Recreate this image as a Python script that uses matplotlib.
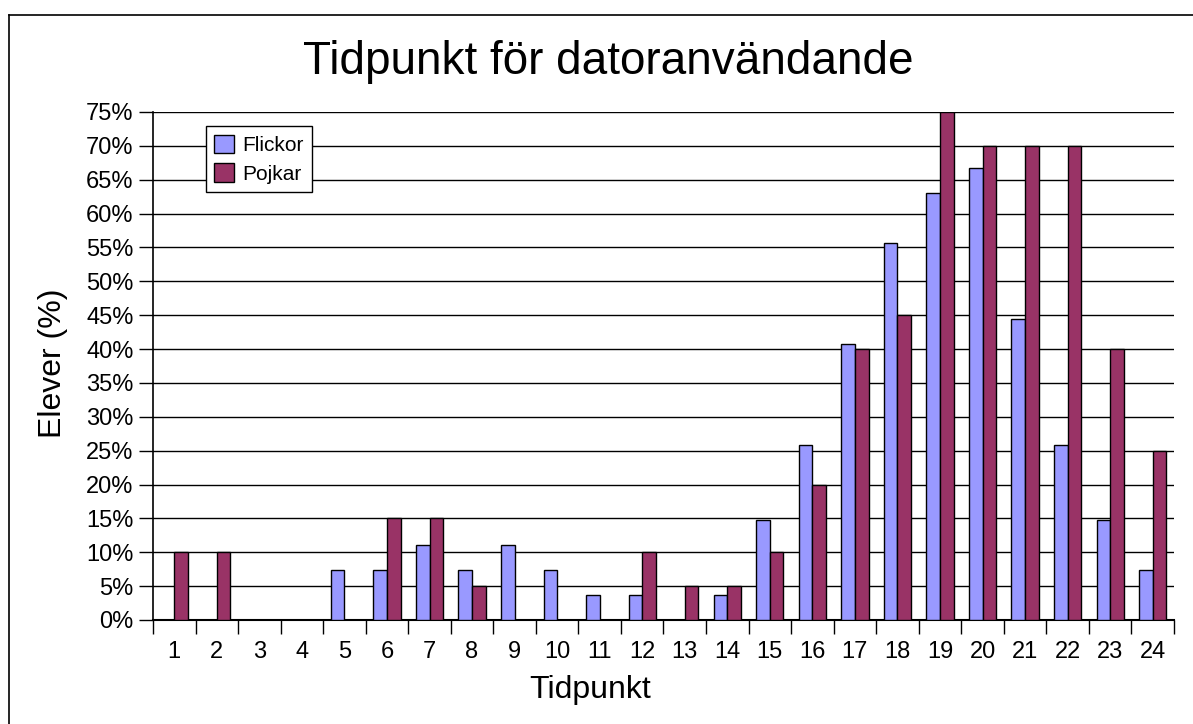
import matplotlib.pyplot as plt
import numpy as np
from matplotlib.lines import Line2D
from matplotlib.ticker import FixedLocator, PercentFormatter

# data (percent of pupils per hour)
hours = list(range(1, 25))
flickor = [0, 0, 0, 0, 7.4, 7.4, 11.1, 7.4, 11.1, 7.4, 3.7, 3.7,
           0, 3.7, 14.8, 25.9, 40.7, 55.6, 63.0, 66.7, 44.4, 25.9, 14.8, 7.4]
pojkar = [10, 10, 0, 0, 0, 15, 15, 5, 0, 0, 0, 10,
          5, 5, 10, 20, 40, 45, 75, 70, 70, 70, 40, 25]
yticks = list(range(0, 80, 5))

plt.rcParams['font.family'] = ['Liberation Sans', 'DejaVu Sans']

fig = plt.figure(figsize=(11.93, 7.24), dpi=100)
ax = fig.add_axes([153 / 1193, 1 - 620 / 724, (1174 - 153) / 1193, (620 - 112) / 724])

x = np.arange(1, 25)
w = 0.32
ax.bar(x - w / 2, flickor, width=w, color='#9999FF', edgecolor='black',
       linewidth=1, label='Flickor', zorder=3)
ax.bar(x + w / 2, pojkar, width=w, color='#993366', edgecolor='black',
       linewidth=1, label='Pojkar', zorder=3)

ax.set_xlim(0.5, 24.5)
ax.set_ylim(0, 75)
ax.set_yticks(yticks)
ax.yaxis.set_major_formatter(PercentFormatter(decimals=0))
ax.set_xticks(x)
ax.set_xticklabels([str(h) for h in hours])
ax.xaxis.set_minor_locator(FixedLocator(np.arange(0.5, 25, 1)))
ax.tick_params(axis='x', which='major', length=0, labelsize=17, pad=15)
ax.tick_params(axis='x', which='minor', length=10, width=1, direction='out')
ax.tick_params(axis='y', length=10, width=1, direction='out', labelsize=17, pad=4)

ax.grid(axis='y', color='black', linewidth=1, zorder=0)
ax.set_axisbelow(True)
for s in ['top', 'right']:
    ax.spines[s].set_visible(False)
ax.spines['left'].set_linewidth(1.2)
ax.spines['bottom'].set_linewidth(1.5)

ax.set_xlabel('Tidpunkt', fontsize=23)
ax.xaxis.set_label_coords((590 - 153) / 1021, -(690 - 620) / 508)
ax.xaxis.label.set_va('center')
ax.set_ylabel('Elever (%)', fontsize=23)
ax.yaxis.set_label_coords(-(153 - 53) / 1021, (620 - 363) / 508)
ax.yaxis.label.set_va('center')
fig.text(608 / 1193, 1 - 62 / 724, 'Tidpunkt för datoranvändande',
         fontsize=33, ha='center', va='center')

leg = ax.legend(loc='upper left', bbox_to_anchor=(0.052, 0.972), borderaxespad=0,
                fontsize=15, frameon=True, fancybox=False, framealpha=1,
                edgecolor='black', handlelength=0.95, handleheight=1.0,
                handletextpad=0.4, borderpad=0.4, labelspacing=0.4)
leg.get_frame().set_linewidth(1)

# outer chart frame (only left and top edges visible)
fx, fy = 9 / 1193, 1 - 15 / 724
fig.add_artist(Line2D([fx, fx], [0, fy], color='black', linewidth=1.2,
                      transform=fig.transFigure))
fig.add_artist(Line2D([fx, 1], [fy, fy], color='black', linewidth=1.2,
                      transform=fig.transFigure))

fig.savefig('out.png', dpi=100)
